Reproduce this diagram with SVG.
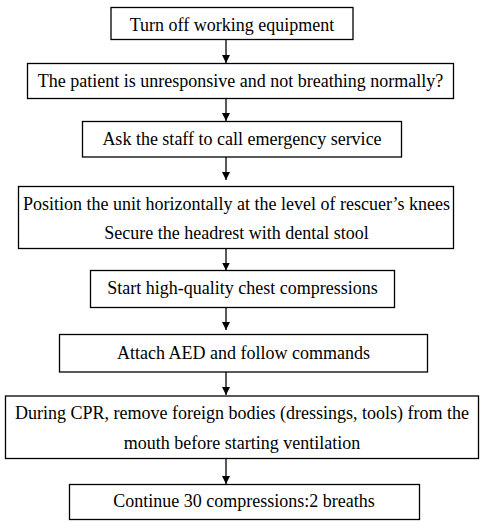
<svg xmlns="http://www.w3.org/2000/svg" width="485" height="530" viewBox="0 0 485 530">
<defs>
<style>
.box{fill:#fff;stroke:#000;stroke-width:1.3}
.t{font-family:"Liberation Serif","Times New Roman",serif;font-size:18px;fill:#000;text-anchor:middle}
.c{stroke:#000;stroke-width:1.3;fill:none}
</style>
<marker id="ah" viewBox="0 0 8 8" refX="8" refY="4" markerWidth="8" markerHeight="8" markerUnits="userSpaceOnUse" orient="auto">
<path d="M0,0 L8,4 L0,8 z" fill="#000"/>
</marker>
</defs>
<rect width="485" height="530" fill="#fff"/>
<g id="connectors">
<line class="c" x1="226" y1="39.5" x2="226" y2="63" marker-end="url(#ah)"/>
<line class="c" x1="226" y1="98.5" x2="226" y2="121" marker-end="url(#ah)"/>
<line class="c" x1="226" y1="157" x2="226" y2="180" marker-end="url(#ah)"/>
<line class="c" x1="226" y1="248.5" x2="226" y2="270.5" marker-end="url(#ah)"/>
<line class="c" x1="226" y1="307.5" x2="226" y2="330" marker-end="url(#ah)"/>
<line class="c" x1="226" y1="372" x2="226" y2="395" marker-end="url(#ah)"/>
<line class="c" x1="226" y1="458.5" x2="226" y2="484" marker-end="url(#ah)"/>
</g>
<g id="n1"><rect class="box" x="111" y="7.5" width="242" height="32"/><text class="t" x="232" y="30.5">Turn off working equipment</text></g>
<g id="n2"><rect class="box" x="27.5" y="63.5" width="426" height="35"/><text class="t" x="240.5" y="86.5">The patient is unresponsive and not breathing normally?</text></g>
<g id="n3"><rect class="box" x="82.5" y="121.5" width="319" height="35.5"/><text class="t" x="242" y="144.5">Ask the staff to call emergency service</text></g>
<g id="n4"><rect class="box" x="18.5" y="186.5" width="435" height="62"/><text class="t" x="236.5" y="209.5">Position the unit horizontally at the level of rescuer’s knees</text><text class="t" x="236.5" y="238.5">Secure the headrest with dental stool</text></g>
<g id="n5"><rect class="box" x="90.5" y="270.5" width="304" height="37"/><text class="t" x="242.5" y="293.5">Start high-quality chest compressions</text></g>
<g id="n6"><rect class="box" x="59.5" y="334.5" width="368" height="37.5"/><text class="t" x="243.5" y="358.5">Attach AED and follow commands</text></g>
<g id="n7"><rect class="box" x="5.5" y="396" width="473" height="62.5"/><text class="t" x="242" y="419">During CPR, remove foreign bodies (dressings, tools) from the</text><text class="t" x="242" y="449">mouth before starting ventilation</text></g>
<g id="n8"><rect class="box" x="69.5" y="484.5" width="350" height="35"/><text class="t" x="244" y="507">Continue 30 compressions:2 breaths</text></g>
</svg>
